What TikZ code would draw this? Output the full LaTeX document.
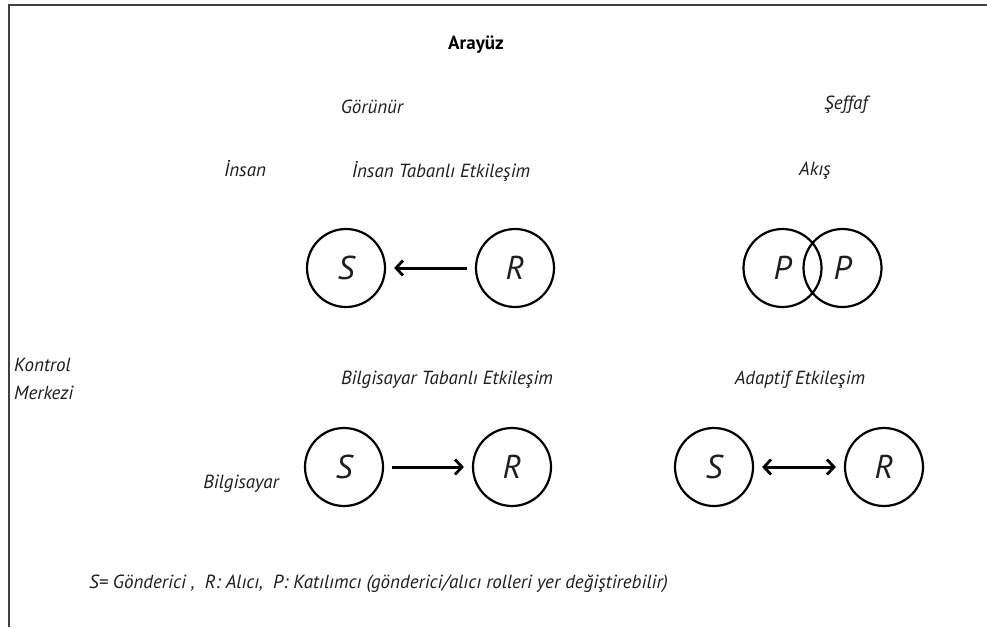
\documentclass[tikz,border=0pt]{standalone}
\usepackage{fontspec}
\setmainfont{PT Sans}
\usetikzlibrary{arrows.meta}
\definecolor{ink}{HTML}{1E1E1E}
\tikzset{
  lbl/.style={text=ink, font=\fontsize{19}{22}\selectfont\itshape, inner sep=0pt},
  role/.style={circle, draw=black, line width=2.2pt, minimum size=78pt, inner sep=0pt,
               text=ink, font=\fontsize{33}{34}\selectfont\itshape},
  tip/.style={Straight Barb[length=7pt,width=15pt,line width=2.8pt]},
  flow/.style={line width=3pt, shorten <=8pt, shorten >=8pt, -{Straight Barb[length=7pt,width=15pt,line width=2.8pt]}},
  both/.style={line width=3pt, shorten <=8pt, shorten >=8pt,
               {Straight Barb[length=7pt,width=15pt,line width=2.8pt]}-{Straight Barb[length=7pt,width=15pt,line width=2.8pt]}},
}
\begin{document}
\begin{tikzpicture}[x=1pt,y=-1pt]
\useasboundingbox (0,0) rectangle (987,627);
\fill[white] (0,0) rectangle (987,627);
% frame: top and left edges
\draw[line width=2.6pt, black!75] (9,627) -- (9,5) -- (987,5);

\node[lbl, font=\fontsize{19}{22}\selectfont\bfseries, text=black] (title) at (476,45) {Arayüz};
\node[lbl] (vis) at (372,107) {Görünür};
\node[lbl] (trans) at (846,105) {Şeffaf};
\node[lbl] (human) at (245,169) {İnsan};
\node[lbl] (hbi) at (441,171) {İnsan Tabanlı Etkileşim};
\node[lbl] (flowlbl) at (815,171) {Akış};
\node[lbl, anchor=west, align=left, font=\fontsize{19}{28}\selectfont\itshape] (ctrl) at (14,379) {Kontrol\\Merkezi};
\node[lbl] (cbi) at (447,380) {Bilgisayar Tabanlı Etkileşim};
\node[lbl] (adapt) at (800,380) {Adaptif Etkileşim};
\node[lbl] (comp) at (241,484) {Bilgisayar};

% top row
\node[role] (s1) at (346,268) {S};
\node[role] (r1) at (515,268) {R};
\draw[flow] (r1) -- (s1);
\node[role] (p1) at (782.5,268) {P};
\node[role] (p2) at (842.5,268) {P};

% bottom row
\node[role] (s2) at (344,467) {S};
\node[role] (r2) at (512,467) {R};
\draw[flow] (s2) -- (r2);
\node[role] (s3) at (714,467) {S};
\node[role] (r3) at (884,467) {R};
\draw[both] (s3) -- (r3);

\node[lbl, anchor=west] (legend) at (89,584) {S= Gönderici ,\ \ R: Alıcı,\ \ P: Katılımcı (gönderici/alıcı rolleri yer değiştirebilir)};
\end{tikzpicture}
\end{document}
